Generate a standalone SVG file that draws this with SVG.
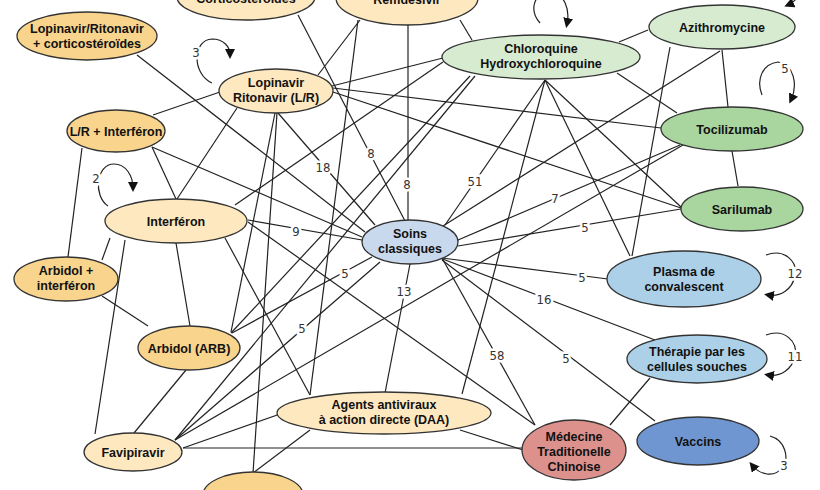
<svg xmlns="http://www.w3.org/2000/svg" width="820" height="490" viewBox="0 0 820 490">
<style>
.e{stroke:#222;stroke-width:1.2;fill:none}
.n{stroke:#333;stroke-width:1.3}
.t{font-family:"Liberation Sans",Arial,sans-serif;font-weight:bold;font-size:12.5px;fill:#111;text-anchor:middle}
.w{font-family:"DejaVu Sans Condensed","DejaVu Sans",sans-serif;font-stretch:condensed;font-size:13px;fill:#333;text-anchor:middle;stroke:#fff;stroke-width:5;paint-order:stroke}
.l{stroke:#222;stroke-width:1.2;fill:none;marker-end:url(#ah)}
.o1{fill:#f8d48c}.o2{fill:#fde8bf}.g1{fill:#d7ebd1}.g2{fill:#a9d59f}.b0{fill:#c9d9ed}.b1{fill:#acd0e8}.b2{fill:#6f96d0}.r{fill:#dd918d}
</style>
<defs><marker id="ah" markerWidth="10" markerHeight="10" refX="6" refY="5" orient="auto" markerUnits="userSpaceOnUse"><path d="M0,0 L10,5 L0,10 Z" fill="#111"/></marker></defs>
<g id="connectors">
<line class="e" x1="137" y1="55" x2="365" y2="232"/>
<line class="e" x1="298" y1="15" x2="405" y2="221"/>
<line class="e" x1="408" y1="25" x2="408" y2="220"/>
<line class="e" x1="360" y1="20" x2="318" y2="75"/>
<line class="e" x1="358" y1="20" x2="310" y2="395"/>
<line class="e" x1="460" y1="20" x2="472" y2="40"/>
<line class="e" x1="443" y1="58" x2="332" y2="86"/>
<line class="e" x1="443" y1="62" x2="235" y2="205"/>
<line class="e" x1="470" y1="76" x2="231" y2="333"/>
<line class="e" x1="475" y1="76" x2="175" y2="440"/>
<line class="e" x1="545" y1="80" x2="445" y2="225"/>
<line class="e" x1="545" y1="80" x2="462" y2="394"/>
<line class="e" x1="545" y1="80" x2="630" y2="256"/>
<line class="e" x1="545" y1="80" x2="681" y2="207"/>
<line class="e" x1="617" y1="73" x2="677" y2="113"/>
<line class="e" x1="648" y1="30" x2="619" y2="42"/>
<line class="e" x1="720" y1="51" x2="443" y2="226"/>
<line class="e" x1="670" y1="47" x2="632" y2="256"/>
<line class="e" x1="722" y1="50" x2="728" y2="107"/>
<line class="e" x1="732" y1="151" x2="738" y2="186"/>
<line class="e" x1="680" y1="145" x2="458" y2="240"/>
<line class="e" x1="683" y1="145" x2="175" y2="440"/>
<line class="e" x1="681" y1="209" x2="458" y2="246"/>
<line class="e" x1="333" y1="88" x2="661" y2="128"/>
<line class="e" x1="333" y1="92" x2="681" y2="208"/>
<line class="e" x1="248" y1="220" x2="362" y2="240"/>
<line class="e" x1="248" y1="222" x2="535" y2="425"/>
<line class="e" x1="278" y1="113" x2="375" y2="225"/>
<line class="e" x1="152" y1="147" x2="362" y2="237"/>
<line class="e" x1="225" y1="238" x2="310" y2="395"/>
<line class="e" x1="125" y1="240" x2="95" y2="434"/>
<line class="e" x1="110" y1="238" x2="102" y2="260"/>
<line class="e" x1="176" y1="243" x2="190" y2="326"/>
<line class="e" x1="82" y1="148" x2="68" y2="257"/>
<line class="e" x1="152" y1="147" x2="176" y2="199"/>
<line class="e" x1="153" y1="115" x2="220" y2="92"/>
<line class="e" x1="237" y1="108" x2="177" y2="199"/>
<line class="e" x1="102" y1="296" x2="148" y2="326"/>
<line class="e" x1="186" y1="370" x2="134" y2="433"/>
<line class="e" x1="275" y1="113" x2="231" y2="332"/>
<line class="e" x1="277" y1="113" x2="253" y2="473"/>
<line class="e" x1="310" y1="430" x2="253" y2="473"/>
<line class="e" x1="183" y1="448" x2="283" y2="413"/>
<line class="e" x1="183" y1="448" x2="522" y2="448"/>
<line class="e" x1="460" y1="430" x2="523" y2="450"/>
<line class="e" x1="610" y1="425" x2="650" y2="378"/>
<line class="e" x1="372" y1="257" x2="232" y2="333"/>
<line class="e" x1="380" y1="262" x2="175" y2="440"/>
<line class="e" x1="410" y1="264" x2="385" y2="393"/>
<line class="e" x1="442" y1="260" x2="655" y2="421"/>
<line class="e" x1="442" y1="258" x2="535" y2="425"/>
<line class="e" x1="440" y1="258" x2="655" y2="340"/>
<line class="e" x1="442" y1="258" x2="608" y2="279"/>
<path class="l" d="M212,83 C192,74 192,40 212,39 C224,39 230,47 230,55"/>
<path class="l" d="M108,206 C93,196 96,164 114,164 C126,164 133,176 133,188"/>
<path class="l" d="M540,23 C530,12 532,-5 548,-8 C565,-8 570,10 567,24"/>
<path class="l" d="M762,95 C756,80 762,64 778,62 C794,64 798,85 791,100"/>
<path class="l" d="M766,255 C785,248 798,262 795,276 C792,290 780,297 768,295"/>
<path class="l" d="M766,335 C785,328 798,342 795,356 C792,370 780,377 768,375"/>
<path class="l" d="M770,436 C785,440 790,458 782,468 C774,478 760,475 752,465"/>
<path class="l" d="M800,-15 C800,-5 795,2 788,5"/>
<text class="w" x="371" y="158">8</text>
<text class="w" x="407" y="189">8</text>
<text class="w" x="323" y="172">18</text>
<text class="w" x="296" y="236">9</text>
<text class="w" x="475" y="186">51</text>
<text class="w" x="555" y="203">7</text>
<text class="w" x="585" y="232">5</text>
<text class="w" x="345" y="278">5</text>
<text class="w" x="302" y="333">5</text>
<text class="w" x="404" y="296">13</text>
<text class="w" x="582" y="282">5</text>
<text class="w" x="544" y="304">16</text>
<text class="w" x="497" y="360">58</text>
<text class="w" x="566" y="363">5</text>
<text class="w" x="196" y="57">3</text>
<text class="w" x="96" y="183">2</text>
<text class="w" x="785" y="73">5</text>
<text class="w" x="795" y="278">12</text>
<text class="w" x="795" y="361">11</text>
<text class="w" x="784" y="470">3</text>
</g>
<g id="corticosteroides"><ellipse class="n o2" cx="246" cy="-3" rx="69" ry="23"/><text class="t" x="246" y="3">Corticostéroïdes</text></g>
<g id="remdesivir"><ellipse class="n o2" cx="407" cy="-2" rx="71" ry="27"/><text class="t" x="407" y="4">Remdesivir</text></g>
<g id="lr-cortico"><ellipse class="n o1" cx="87" cy="36" rx="70" ry="24"/><text class="t" x="87" y="33">Lopinavir/Ritonavir</text><text class="t" x="87" y="48">+ corticostéroïdes</text></g>
<g id="lr"><ellipse class="n o2" cx="276" cy="91" rx="57" ry="22"/><text class="t" x="276" y="87">Lopinavir</text><text class="t" x="276" y="102">Ritonavir (L/R)</text></g>
<g id="lr-interferon"><ellipse class="n o1" cx="116" cy="131" rx="49" ry="21"/><text class="t" x="116" y="136">L/R + Interféron</text></g>
<g id="interferon"><ellipse class="n o2" cx="176" cy="221" rx="71" ry="22"/><text class="t" x="176" y="226">Interféron</text></g>
<g id="arbidol-interferon"><ellipse class="n o1" cx="66" cy="279" rx="52" ry="22"/><text class="t" x="66" y="275">Arbidol +</text><text class="t" x="66" y="290">interféron</text></g>
<g id="arbidol"><ellipse class="n o1" cx="189" cy="348" rx="51" ry="22"/><text class="t" x="189" y="353">Arbidol (ARB)</text></g>
<g id="favipiravir"><ellipse class="n o2" cx="133" cy="452" rx="49" ry="19"/><text class="t" x="133" y="457">Favipiravir</text></g>
<g id="bottom-node"><ellipse class="n o1" cx="253" cy="495" rx="50" ry="23"/></g>
<g id="daa"><ellipse class="n o2" cx="384" cy="413" rx="107" ry="21"/><text class="t" x="384" y="409">Agents antiviraux</text><text class="t" x="384" y="424">à action directe (DAA)</text></g>
<g id="soins"><ellipse class="n b0" cx="410" cy="242" rx="48" ry="22"/><text class="t" x="410" y="238">Soins</text><text class="t" x="410" y="253">classiques</text></g>
<g id="chloroquine"><ellipse class="n g1" cx="541" cy="57" rx="99" ry="22"/><text class="t" x="541" y="53">Chloroquine</text><text class="t" x="541" y="68">Hydroxychloroquine</text></g>
<g id="azithromycine"><ellipse class="n g1" cx="722" cy="27" rx="73" ry="22"/><text class="t" x="722" y="32">Azithromycine</text></g>
<g id="tocilizumab"><ellipse class="n g2" cx="732" cy="129" rx="71" ry="22"/><text class="t" x="732" y="134">Tocilizumab</text></g>
<g id="sarilumab"><ellipse class="n g2" cx="742" cy="209" rx="61" ry="22"/><text class="t" x="742" y="214">Sarilumab</text></g>
<g id="plasma"><ellipse class="n b1" cx="684" cy="279" rx="77" ry="28"/><text class="t" x="684" y="276">Plasma de</text><text class="t" x="684" y="291">convalescent</text></g>
<g id="therapie"><ellipse class="n b1" cx="697" cy="359" rx="70" ry="24"/><text class="t" x="697" y="356">Thérapie par les</text><text class="t" x="697" y="371">cellules souches</text></g>
<g id="vaccins"><ellipse class="n b2" cx="698" cy="441" rx="61" ry="24"/><text class="t" x="698" y="446">Vaccins</text></g>
<g id="mtc"><ellipse class="n r" cx="574" cy="450" rx="52" ry="30"/><text class="t" x="574" y="441">Médecine</text><text class="t" x="574" y="456">Traditionelle</text><text class="t" x="574" y="471">Chinoise</text></g>
</svg>
